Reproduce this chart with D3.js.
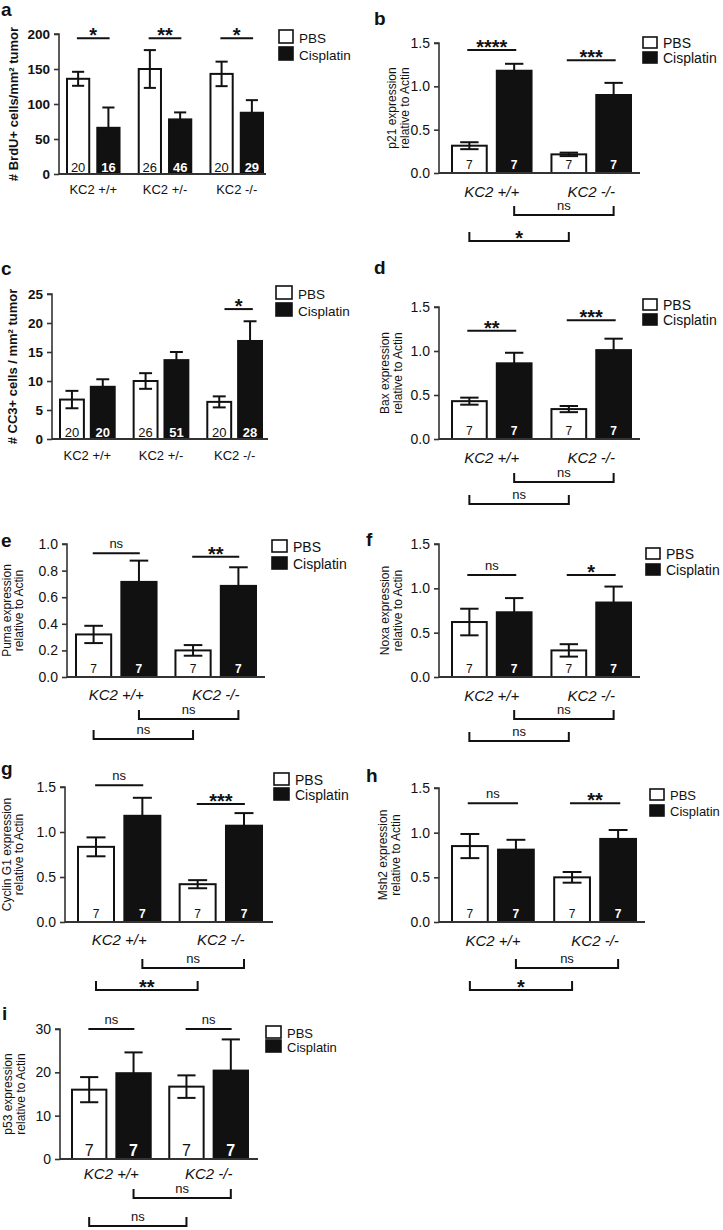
<!DOCTYPE html>
<html><head><meta charset="utf-8">
<script src="https://cdn.jsdelivr.net/npm/d3@7"></script>
<style>
body{margin:0;background:#fff}
svg{display:block}
text{font-family:"Liberation Sans",Arial,Helvetica,sans-serif;fill:#111}
</style>
</head><body>
<svg id="fig" width="723" height="1230"></svg>
<script>
// ---------- DATA ----------
const seriesNames = ["PBS", "Cisplatin"];
const groups3 = ["KC2 +/+", "KC2 +/-", "KC2 -/-"];
const groups2 = ["KC2 +/+", "KC2 -/-"];

// a: BrdU+
const aPBS = [136, 150, 143], aPBSErr = [10, 27, 17.5];
const aCis = [66, 78, 87.5], aCisErr = [29, 10, 18];
const aNPBS = [20, 26, 20], aNCis = [16, 46, 29];
const aTicks = [0, 50, 100, 150, 200];
const aSig = ["*", "**", "*"], aSigAt = [194, 194, 194];

// b: p21
const bPBS = [0.315, 0.215], bPBSErr = [0.04, 0.02];
const bCis = [1.18, 0.9], bCisErr = [0.08, 0.14];
const bTicks = [0, 0.5, 1.0, 1.5];
const bSig = ["****", "***"], bSigAt = [1.42, 1.30];
const bBrackets = ["ns", "*"];

// c: CC3+
const cPBS = [6.8, 10, 6.4], cPBSErr = [1.5, 1.35, 0.95];
const cCis = [9.0, 13.6, 16.9], cCisErr = [1.3, 1.4, 3.4];
const cNPBS = [20, 26, 20], cNCis = [20, 51, 28];
const cTicks = [0, 5, 10, 15, 20, 25];
const cSig = ["", "", "*"], cSigAt = [0, 0, 22.4];

// d: Bax
const dPBS = [0.43, 0.34], dPBSErr = [0.04, 0.035];
const dCis = [0.86, 1.01], dCisErr = [0.12, 0.13];
const dSig = ["**", "***"], dSigAt = [1.23, 1.35];
const dBrackets = ["ns", "ns"];

// e: Puma
const ePBS = [0.32, 0.20], ePBSErr = [0.065, 0.04];
const eCis = [0.715, 0.685], eCisErr = [0.16, 0.14];
const eTicks = [0, 0.2, 0.4, 0.6, 0.8, 1.0];
const eSig = ["ns", "**"], eSigAt = [0.93, 0.905];
const eBrackets = ["ns", "ns"];

// f: Noxa
const fPBS = [0.62, 0.30], fPBSErr = [0.15, 0.07];
const fCis = [0.73, 0.84], fCisErr = [0.16, 0.18];
const fSig = ["ns", "*"], fSigAt = [1.15, 1.15];
const fBrackets = ["ns", "ns"];

// g: Cyclin G1
const gPBS = [0.835, 0.42], gPBSErr = [0.105, 0.045];
const gCis = [1.18, 1.07], gCisErr = [0.2, 0.14];
const gSig = ["ns", "***"], gSigAt = [1.52, 1.31];
const gBrackets = ["ns", "**"];

// h: Msh2
const hPBS = [0.85, 0.50], hPBSErr = [0.135, 0.06];
const hCis = [0.81, 0.93], hCisErr = [0.11, 0.10];
const hSig = ["ns", "**"], hSigAt = [1.33, 1.33];
const hBrackets = ["ns", "*"];

// i: p53
const iPBS = [16.0, 16.7], iPBSErr = [2.9, 2.6];
const iCis = [19.8, 20.4], iCisErr = [4.8, 7.2];
const iTicks = [0, 10, 20, 30];
const iSig = ["ns", "ns"], iSigAt = [30, 30];
const iBrackets = ["ns", "ns"];

const nExpr = [7, 7];
const expTicks = [0, 0.5, 1.0, 1.5];

// ---------- DRAW ----------
const svg = d3.select("#fig");

function drawPanel(L, D) {
  const g = svg.append("g");
  const y = d3.scaleLinear().domain([0, D.max]).range([L.y0, L.yTop]);
  const x = d3.scaleBand().domain(D.groups).range([L.bx0, L.bx1]).paddingInner(L.gPad).paddingOuter(0);
  const xs = d3.scaleBand().domain(seriesNames).range([0, x.bandwidth()]).paddingInner(L.sPad).paddingOuter(0);
  const bw = xs.bandwidth();

  g.append("text").attr("x", L.lx).attr("y", L.ly).attr("font-size", 19).attr("font-weight", "bold").text(L.letter);

  const rows = [];
  D.groups.forEach((grp, i) => {
    rows.push({grp, s: "PBS", v: D.pbs[i], e: D.pbsErr[i], n: D.nPBS[i]});
    rows.push({grp, s: "Cisplatin", v: D.cis[i], e: D.cisErr[i], n: D.nCis[i]});
  });
  rows.forEach(r => {
    const cx = x(r.grp) + xs(r.s) + bw / 2;
    const capW = bw * 0.5;
    const top = y(r.v + r.e), bot = y(r.v);
    g.append("line").attr("x1", cx).attr("x2", cx).attr("y1", top).attr("y2", bot).attr("stroke", "#111").attr("stroke-width", 2);
    g.append("line").attr("x1", cx - capW / 2).attr("x2", cx + capW / 2).attr("y1", top).attr("y2", top).attr("stroke", "#111").attr("stroke-width", 2);
  });
  rows.forEach(r => {
    const bx = x(r.grp) + xs(r.s);
    g.append("rect").attr("x", bx + 1).attr("y", y(r.v)).attr("width", bw - 2).attr("height", L.y0 - y(r.v))
      .attr("fill", r.s === "PBS" ? "none" : "#111").attr("stroke", "#111").attr("stroke-width", 2);
  });
  rows.filter(r => r.s === "PBS").forEach(r => {
    const cx = x(r.grp) + xs(r.s) + bw / 2;
    const capW = bw * 0.5;
    const bot = y(r.v - r.e);
    g.append("line").attr("x1", cx).attr("x2", cx).attr("y1", y(r.v)).attr("y2", bot).attr("stroke", "#111").attr("stroke-width", 2);
    g.append("line").attr("x1", cx - capW / 2).attr("x2", cx + capW / 2).attr("y1", bot).attr("y2", bot).attr("stroke", "#111").attr("stroke-width", 2);
  });
  rows.forEach(r => {
    const cx = x(r.grp) + xs(r.s) + bw / 2;
    g.append("text").attr("x", cx).attr("y", L.y0 - L.nOff).attr("text-anchor", "middle")
      .attr("font-size", L.nSize).attr("font-weight", r.s === "PBS" ? "normal" : "bold")
      .style("fill", r.s === "PBS" ? "#111" : "#fff").text(r.n);
  });

  const ax = d3.axisLeft(y).tickValues(D.ticks).tickSize(5).tickPadding(4).tickFormat(D.fmt);
  const axg = g.append("g").attr("transform", `translate(${L.ax},0)`).call(ax);
  axg.select(".domain").attr("stroke", "#333").attr("stroke-width", 1.6).attr("d", `M-5,${L.yTop}H0V${L.y0}`);
  axg.selectAll(".tick line").attr("stroke", "#333").attr("stroke-width", 1.6);
  axg.selectAll(".tick text").attr("font-size", L.tickSize).attr("font-weight", L.tickBold ? "bold" : "normal")
    .attr("font-family", "Liberation Sans, Arial, sans-serif").style("fill", "#111");
  g.append("line").attr("x1", L.ax).attr("x2", L.axEnd).attr("y1", L.y0).attr("y2", L.y0).attr("stroke", "#333").attr("stroke-width", 1.8);

  D.groups.forEach(grp => {
    g.append("text").attr("x", x(grp) + x.bandwidth() / 2).attr("y", L.y0 + L.catOff).attr("text-anchor", "middle")
      .attr("font-size", L.catSize).attr("font-style", L.catItalic ? "italic" : "normal").text(grp);
  });

  const cy = (L.y0 + L.yTop) / 2;
  D.yLabel.forEach((ln, k) => {
    g.append("text").attr("transform", `translate(${L.ylx[k]},${cy}) rotate(-90)`).attr("text-anchor", "middle")
      .attr("font-size", L.ylSize).attr("font-weight", L.ylBold ? "bold" : "normal").text(ln);
  });

  D.groups.forEach((grp, i) => {
    if (!D.sig[i]) return;
    const cx = x(grp) + x.bandwidth() / 2 + (L.sigShift || 0);
    const hw = x.bandwidth() * L.sigW / 2;
    const yy = y(D.sigAt[i]);
    g.append("line").attr("x1", cx - hw).attr("x2", cx + hw).attr("y1", yy).attr("y2", yy).attr("stroke", "#111").attr("stroke-width", 2);
    const star = D.sig[i] !== "ns";
    g.append("text").attr("x", cx).attr("y", star ? yy + 4 : yy - 5).attr("text-anchor", "middle")
      .attr("font-size", star ? L.starSize : L.nsSize).attr("font-weight", star ? "bold" : "normal").text(D.sig[i]);
  });

  if (D.brackets) {
    const specs = [
      {s: "Cisplatin", yy: L.y0 + L.br1, lab: D.brackets[0]},
      {s: "PBS", yy: L.y0 + L.br2, lab: D.brackets[1]}
    ];
    specs.forEach(sp => {
      const x1 = x(D.groups[0]) + xs(sp.s) + bw / 2;
      const x2 = x(D.groups[1]) + xs(sp.s) + bw / 2;
      g.append("path").attr("d", `M${x1},${sp.yy - 9}V${sp.yy}H${x2}V${sp.yy - 9}`).attr("fill", "none").attr("stroke", "#111").attr("stroke-width", 2);
      const star = sp.lab !== "ns";
      g.append("text").attr("x", (x1 + x2) / 2).attr("y", star ? sp.yy + 4 : sp.yy - 5).attr("text-anchor", "middle")
        .attr("font-size", star ? L.starSize : L.nsSize).attr("font-weight", star ? "bold" : "normal").text(sp.lab);
    });
  }

  seriesNames.forEach((s, k) => {
    const yy = L.legY[k];
    g.append("rect").attr("x", L.legX).attr("y", yy).attr("width", L.legW).attr("height", L.legH)
      .attr("fill", s === "PBS" ? "#fff" : "#111").attr("stroke", "#111").attr("stroke-width", 1.6);
    g.append("text").attr("x", L.legX + L.legW + 6).attr("y", yy + L.legH - 0.5).attr("font-size", L.legSize).text(s);
  });
}

const fmt1 = d3.format(".1f"), fmt0 = d3.format("d");
const rightBase = {ax: 439, axEnd: 640, bx0: 451, bx1: 632, gPad: 0.18, sPad: 0.18, tickSize: 14, catSize: 15, catItalic: true,
  ylSize: 12, nSize: 12, nOff: 4, sigW: 0.6, starSize: 20, nsSize: 13, legX: 643, legW: 14, legH: 11, legSize: 14, catOff: 24};
const leftExpr = {tickSize: 14, catSize: 15, catItalic: true, ylSize: 12, nSize: 12, nOff: 4, sigW: 0.57, starSize: 20, nsSize: 13,
  legW: 15, legH: 12, legSize: 14, catOff: 23};

// a
drawPanel({letter: "a", lx: 1, ly: 16, ax: 59, axEnd: 266, y0: 174, yTop: 34, bx0: 66, bx1: 264, gPad: 0.24, sPad: 0.2,
  tickSize: 13.5, tickBold: true, catSize: 13, catItalic: false, ylSize: 13, ylBold: true, ylx: [18], nSize: 13, nOff: 2,
  sigW: 0.6, starSize: 20, nsSize: 13, legX: 279, legY: [30, 47], legW: 14, legH: 13, legSize: 13.5, catOff: 20},
  {groups: groups3, max: 200, pbs: aPBS, pbsErr: aPBSErr, cis: aCis, cisErr: aCisErr, nPBS: aNPBS, nCis: aNCis,
   ticks: aTicks, fmt: fmt0, yLabel: ["# BrdU+ cells/mm² tumor"], sig: aSig, sigAt: aSigAt});

// b
drawPanel(Object.assign({}, rightBase, {letter: "b", lx: 374, ly: 25, y0: 173, yTop: 43, ylx: [396, 409], legY: [37, 52], br1: 42, br2: 68}),
  {groups: groups2, max: 1.5, pbs: bPBS, pbsErr: bPBSErr, cis: bCis, cisErr: bCisErr, nPBS: nExpr, nCis: nExpr,
   ticks: bTicks, fmt: fmt1, yLabel: ["p21 expression", "relative to Actin"], sig: bSig, sigAt: bSigAt, brackets: bBrackets});

// c
drawPanel({letter: "c", lx: 1, ly: 275, ax: 52, axEnd: 268, y0: 439, yTop: 294, bx0: 59, bx1: 263, gPad: 0.23, sPad: 0.16,
  tickSize: 13.5, tickBold: true, catSize: 13, catItalic: false, ylSize: 13, ylBold: true, ylx: [17], nSize: 13, nOff: 2,
  sigW: 0.5, sigShift: 4, starSize: 20, nsSize: 13, legX: 276, legY: [286, 303], legW: 16, legH: 13, legSize: 13.5, catOff: 21},
  {groups: groups3, max: 25, pbs: cPBS, pbsErr: cPBSErr, cis: cCis, cisErr: cCisErr, nPBS: cNPBS, nCis: cNCis,
   ticks: cTicks, fmt: fmt0, yLabel: ["# CC3+ cells / mm² tumor"], sig: cSig, sigAt: cSigAt});

// d
drawPanel(Object.assign({}, rightBase, {letter: "d", lx: 374, ly: 274, y0: 439, yTop: 307, ylx: [389, 402], legY: [299, 314], br1: 43, br2: 65}),
  {groups: groups2, max: 1.5, pbs: dPBS, pbsErr: dPBSErr, cis: dCis, cisErr: dCisErr, nPBS: nExpr, nCis: nExpr,
   ticks: expTicks, fmt: fmt1, yLabel: ["Bax expression", "relative to Actin"], sig: dSig, sigAt: dSigAt, brackets: dBrackets});

// e
drawPanel(Object.assign({}, leftExpr, {letter: "e", lx: 1, ly: 547, ax: 67, axEnd: 265, y0: 677, yTop: 544, bx0: 75, bx1: 257,
  gPad: 0.17, sPad: 0.18, ylx: [11, 23], legX: 272, legY: [540, 557], br1: 42, br2: 62}),
  {groups: groups2, max: 1.0, pbs: ePBS, pbsErr: ePBSErr, cis: eCis, cisErr: eCisErr, nPBS: nExpr, nCis: nExpr,
   ticks: eTicks, fmt: fmt1, yLabel: ["Puma expression", "relative to Actin"], sig: eSig, sigAt: eSigAt, brackets: eBrackets});

// f
drawPanel(Object.assign({}, rightBase, {letter: "f", lx: 366, ly: 546, y0: 677, yTop: 544, ylx: [389, 402], legX: 646, legY: [548, 564], br1: 42, br2: 64}),
  {groups: groups2, max: 1.5, pbs: fPBS, pbsErr: fPBSErr, cis: fCis, cisErr: fCisErr, nPBS: nExpr, nCis: nExpr,
   ticks: expTicks, fmt: fmt1, yLabel: ["Noxa expression", "relative to Actin"], sig: fSig, sigAt: fSigAt, brackets: fBrackets});

// g
drawPanel(Object.assign({}, leftExpr, {letter: "g", lx: 1, ly: 775, ax: 65, axEnd: 273, y0: 922, yTop: 787, bx0: 77, bx1: 263,
  gPad: 0.17, sPad: 0.18, ylx: [11, 23], legX: 274, legY: [773, 788], br1: 46, br2: 68}),
  {groups: groups2, max: 1.5, pbs: gPBS, pbsErr: gPBSErr, cis: gCis, cisErr: gCisErr, nPBS: nExpr, nCis: nExpr,
   ticks: expTicks, fmt: fmt1, yLabel: ["Cyclin G1 expression", "relative to Actin"], sig: gSig, sigAt: gSigAt, brackets: gBrackets});

// h
drawPanel(Object.assign({}, rightBase, {letter: "h", lx: 366, ly: 782, y0: 922, yTop: 788, bx0: 451, bx1: 637, axEnd: 645,
  ylx: [387, 400], legX: 650, legY: [789, 805], legSize: 13, br1: 46, br2: 68}),
  {groups: groups2, max: 1.5, pbs: hPBS, pbsErr: hPBSErr, cis: hCis, cisErr: hCisErr, nPBS: nExpr, nCis: nExpr,
   ticks: expTicks, fmt: fmt1, yLabel: ["Msh2 expression", "relative to Actin"], sig: hSig, sigAt: hSigAt, brackets: hBrackets});

// i
drawPanel(Object.assign({}, leftExpr, {letter: "i", lx: 2, ly: 1020, ax: 60, axEnd: 258, y0: 1159, yTop: 1029, bx0: 71, bx1: 249,
  gPad: 0.17, sPad: 0.18, ylx: [12, 25], nSize: 16, nOff: 3, legX: 266, legY: [1026, 1040], legSize: 13, br1: 39, br2: 67, catOff: 20}),
  {groups: groups2, max: 30, pbs: iPBS, pbsErr: iPBSErr, cis: iCis, cisErr: iCisErr, nPBS: nExpr, nCis: nExpr,
   ticks: iTicks, fmt: fmt0, yLabel: ["p53 expression", "relative to Actin"], sig: iSig, sigAt: iSigAt, brackets: iBrackets});
</script>
</body></html>
